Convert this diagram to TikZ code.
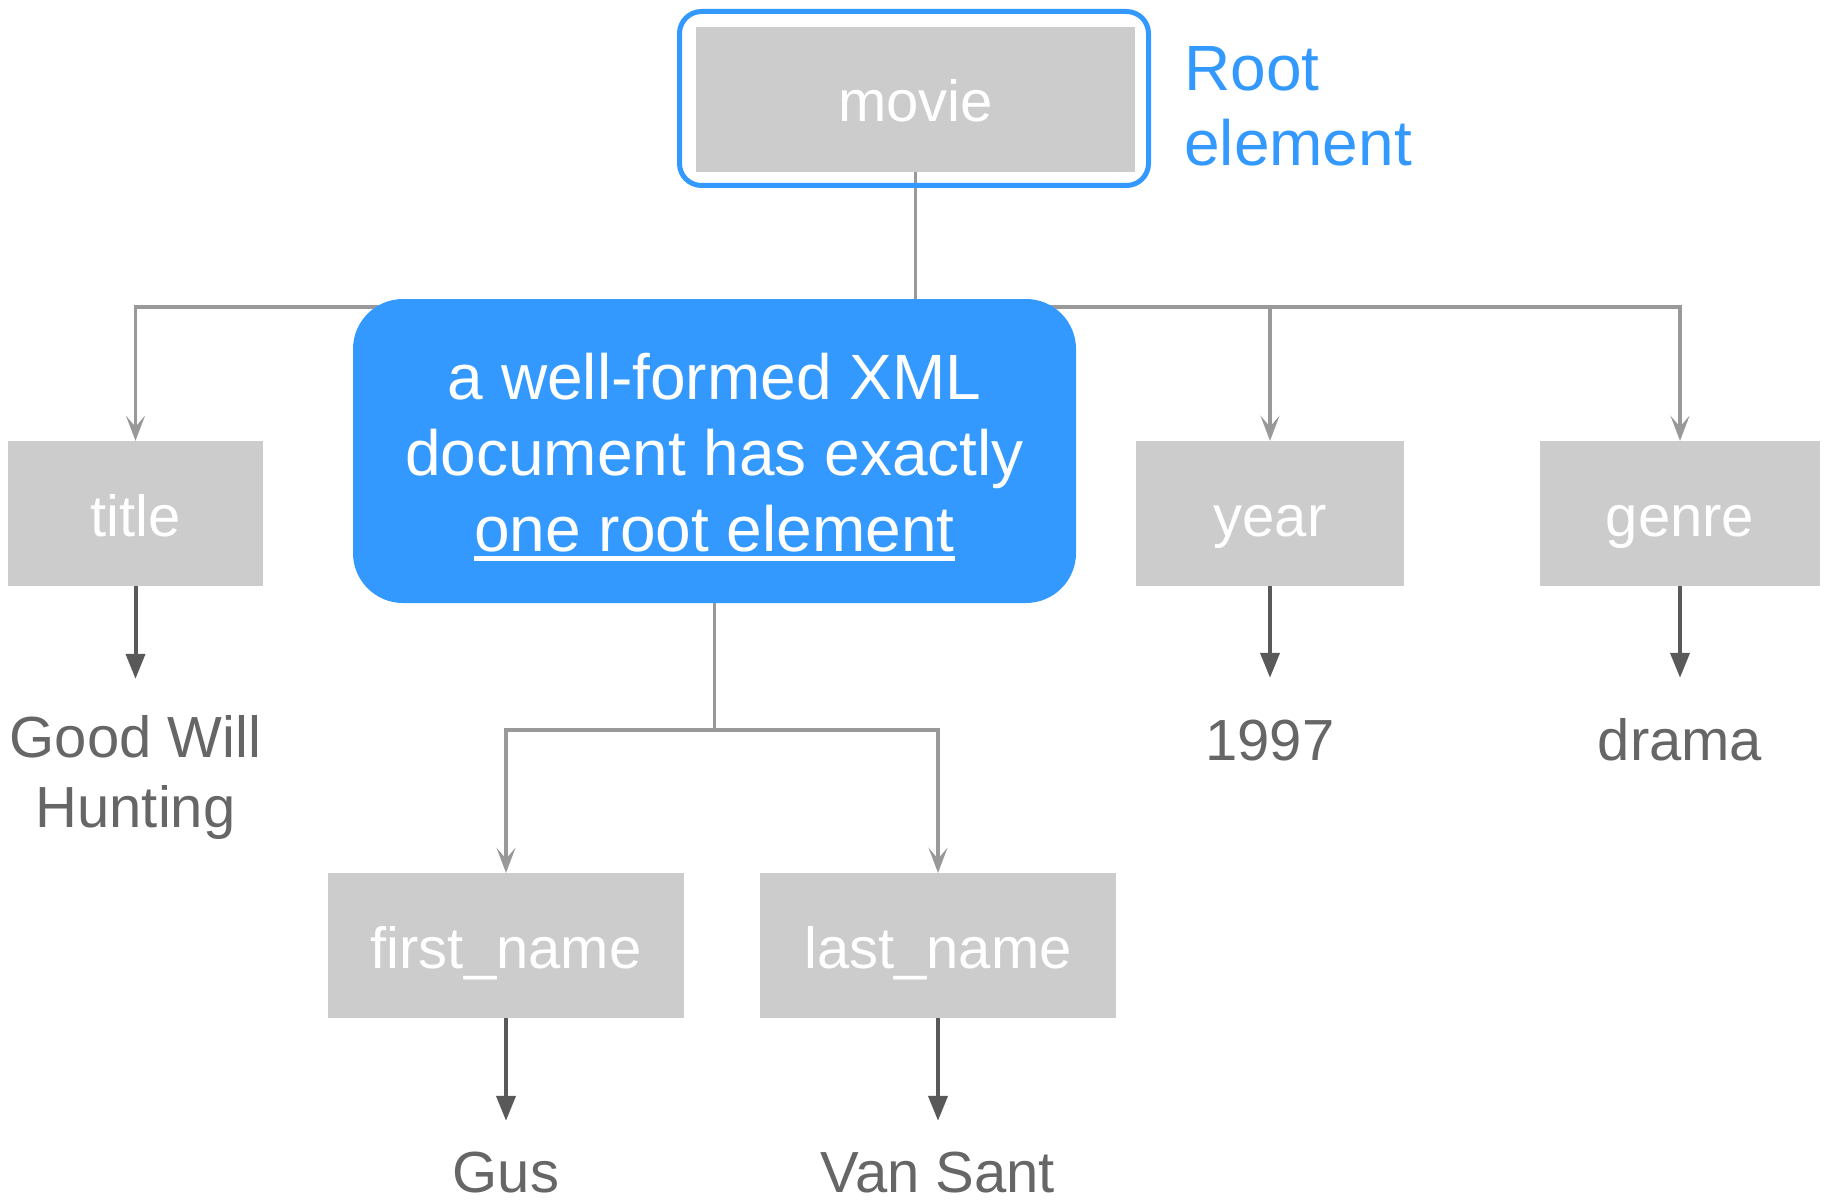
\documentclass[tikz,border=0pt]{standalone}
\usepackage{fontspec}
\setmainfont{Liberation Sans}
\usetikzlibrary{arrows.meta}
\definecolor{boxgrey}{HTML}{CCCCCC}
\definecolor{linkgrey}{HTML}{999999}
\definecolor{valgrey}{HTML}{666666}
\definecolor{darklink}{HTML}{595959}
\definecolor{accent}{HTML}{3399FF}
% underline drawn as a rule of fixed offset and thickness
\newcommand\ulword[1]{\setbox0\hbox{#1}\rlap{\rule[-10pt]{\wd0}{5pt}}\box0}

\begin{document}
\begin{tikzpicture}[x=1pt,y=-1pt,
  elem/.style={fill=boxgrey, text=white, inner sep=0pt,
    font=\fontsize{58}{70}\selectfont, text height=45pt, text depth=0pt,
    minimum height=145pt},
  valtext/.style={text=valgrey, inner sep=0pt, anchor=base,
    font=\fontsize{58}{70}\selectfont, text height=44pt, text depth=0pt},
  notetext/.style={text=white, inner sep=0pt, anchor=base,
    font=\fontsize{64}{76}\selectfont},
  rootlabel/.style={text=accent, inner sep=0pt, anchor=base west,
    font=\fontsize{64}{76}\selectfont},
  link/.style={draw=linkgrey, line width=3.3pt,
    -{Stealth[length=25pt,width=19pt,inset=11pt]}},
  valarrow/.style={draw=darklink, line width=4pt,
    -{Triangle[length=25pt,width=19pt]}},
  callout/.style={fill=accent, rounded corners=50pt, inner sep=0pt,
    minimum width=723pt, minimum height=304pt},
  ring/.style={draw=accent, line width=5pt, rounded corners=22pt, inner sep=0pt,
    minimum width=469pt, minimum height=174pt}
]
\useasboundingbox[fill=white] (0,0) rectangle (1831,1201);

% element boxes
\node[elem, minimum width=439pt] (movie) at (915.5,99.5) {movie};
\node[elem, minimum width=255pt] (title) at (135.5,513.5) {title};
\node[elem, minimum width=268pt] (year) at (1270,513.5) {year};
\node[elem, minimum width=280pt] (genre) at (1680,513.5) {genre};
\node[elem, minimum width=356pt] (first) at (506,945.5) {first\_name};
\node[elem, minimum width=356pt] (last) at (938,945.5) {last\_name};

% text values
\node[valtext] (titleval) at (135.5,757) {Good Will};
\node[valtext] (titleval2) at (135.5,827) {Hunting};
\node[valtext] (yearval) at (1270,760) {1997};
\node[valtext] (genreval) at (1680,760) {drama};
\node[valtext] (firstval) at (506,1192) {Gus};
\node[valtext] (lastval) at (938,1192) {Van Sant};

% children of the root
\coordinate (topbus) at (915.5,307);
\draw[link] (movie.south) -- (topbus) -| (title.north);
\draw[link] (topbus) -| (year.north);
\draw[link] (topbus) -| (genre.north);

% element to text value
\draw[valarrow, shorten >=34pt] (title.south) -- (titleval.north);
\draw[valarrow, shorten >=38pt] (year.south) -- (yearval.north);
\draw[valarrow, shorten >=38pt] (genre.south) -- (genreval.north);
\draw[valarrow, shorten >=27pt] (first.south) -- (firstval.north);
\draw[valarrow, shorten >=27pt] (last.south) -- (lastval.north);

% callout
\node[callout] (note) at (714.5,451) {};
\node[notetext] (note1) at (714.5,399) {a well-formed XML};
\node[notetext] (note2) at (714.5,475) {document has exactly};
\node[notetext] (note3) at (714.5,551) {\ulword{one root element}};

\coordinate (lowbus) at (714.5,730);
\draw[link] (note.south) -- (lowbus) -| (first.north);
\draw[link] (lowbus) -| (last.north);

% root highlight
\node[ring] (rootring) at (914,98.5) {};
\node[rootlabel] (rootlbl1) at (1184,91) {Root};
\node[rootlabel] (rootlbl2) at (1184,166) {element};
\end{tikzpicture}
\end{document}
